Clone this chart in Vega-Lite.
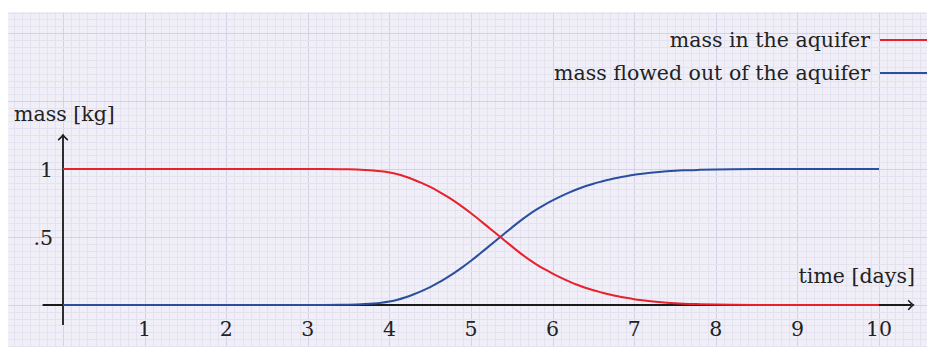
{
  "$schema": "https://vega.github.io/schema/vega-lite/v6.json",
  "width": 919,
  "height": 335,
  "autosize": {"type": "none"},
  "padding": {"left": 8, "top": 12, "right": 0, "bottom": 0},
  "background": "#ffffff",
  "config": {
    "view": {"fill": "#f0eff8", "stroke": null},
    "text": {"font": "DejaVu Serif", "fontSize": 20.5, "color": "#222222"}
  },
  "datasets": {
    "curves": [
      {"t": 0, "inside": 1, "outflow": 0},
      {"t": 1, "inside": 1, "outflow": 0},
      {"t": 2, "inside": 1, "outflow": 0},
      {"t": 3, "inside": 1, "outflow": 0},
      {"t": 3.2, "inside": 1, "outflow": 0},
      {"t": 3.4, "inside": 0.999, "outflow": 0.001},
      {"t": 3.5, "inside": 0.998, "outflow": 0.002},
      {"t": 3.6, "inside": 0.996, "outflow": 0.004},
      {"t": 3.7, "inside": 0.993, "outflow": 0.007},
      {"t": 3.8, "inside": 0.989, "outflow": 0.011},
      {"t": 3.9, "inside": 0.983, "outflow": 0.017},
      {"t": 4.0, "inside": 0.974, "outflow": 0.026},
      {"t": 4.1, "inside": 0.961, "outflow": 0.039},
      {"t": 4.2, "inside": 0.943, "outflow": 0.057},
      {"t": 4.3, "inside": 0.921, "outflow": 0.079},
      {"t": 4.4, "inside": 0.896, "outflow": 0.104},
      {"t": 4.5, "inside": 0.868, "outflow": 0.132},
      {"t": 4.6, "inside": 0.836, "outflow": 0.164},
      {"t": 4.7, "inside": 0.8, "outflow": 0.2},
      {"t": 4.8, "inside": 0.762, "outflow": 0.238},
      {"t": 4.9, "inside": 0.72, "outflow": 0.28},
      {"t": 5.0, "inside": 0.675, "outflow": 0.325},
      {"t": 5.1, "inside": 0.627, "outflow": 0.373},
      {"t": 5.2, "inside": 0.578, "outflow": 0.422},
      {"t": 5.3, "inside": 0.529, "outflow": 0.471},
      {"t": 5.4, "inside": 0.48, "outflow": 0.52},
      {"t": 5.5, "inside": 0.431, "outflow": 0.569},
      {"t": 5.6, "inside": 0.383, "outflow": 0.617},
      {"t": 5.7, "inside": 0.339, "outflow": 0.661},
      {"t": 5.8, "inside": 0.299, "outflow": 0.701},
      {"t": 5.9, "inside": 0.263, "outflow": 0.737},
      {"t": 6.0, "inside": 0.231, "outflow": 0.769},
      {"t": 6.1, "inside": 0.201, "outflow": 0.799},
      {"t": 6.2, "inside": 0.174, "outflow": 0.826},
      {"t": 6.3, "inside": 0.149, "outflow": 0.851},
      {"t": 6.4, "inside": 0.127, "outflow": 0.873},
      {"t": 6.5, "inside": 0.108, "outflow": 0.892},
      {"t": 6.6, "inside": 0.092, "outflow": 0.908},
      {"t": 6.7, "inside": 0.077, "outflow": 0.923},
      {"t": 6.8, "inside": 0.064, "outflow": 0.936},
      {"t": 6.9, "inside": 0.053, "outflow": 0.947},
      {"t": 7.0, "inside": 0.043, "outflow": 0.957},
      {"t": 7.1, "inside": 0.035, "outflow": 0.965},
      {"t": 7.2, "inside": 0.028, "outflow": 0.972},
      {"t": 7.3, "inside": 0.022, "outflow": 0.978},
      {"t": 7.4, "inside": 0.017, "outflow": 0.983},
      {"t": 7.5, "inside": 0.013, "outflow": 0.987},
      {"t": 7.6, "inside": 0.01, "outflow": 0.99},
      {"t": 7.8, "inside": 0.006, "outflow": 0.994},
      {"t": 8.0, "inside": 0.003, "outflow": 0.997},
      {"t": 8.2, "inside": 0.0015, "outflow": 0.9985},
      {"t": 8.5, "inside": 0.0005, "outflow": 0.9995},
      {"t": 9.0, "inside": 0, "outflow": 1},
      {"t": 10.0, "inside": 0, "outflow": 1}
    ],
    "xticks": [
      {"v": 1}, {"v": 2}, {"v": 3}, {"v": 4}, {"v": 5},
      {"v": 6}, {"v": 7}, {"v": 8}, {"v": 9}, {"v": 10}
    ],
    "yticks": [
      {"v": 0.5, "lbl": ".5"},
      {"v": 1, "lbl": "1"}
    ],
    "one": [{}]
  },
  "resolve": {"axis": {"x": "independent", "y": "independent"}},
  "layer": [
    {
      "description": "horizontal time axis",
      "data": {"name": "one"},
      "mark": {"type": "rule", "stroke": "#1a1a1a", "strokeWidth": 1.8},
      "encoding": {
        "x": {"datum": -0.25, "type": "quantitative", "axis": null, "scale": {"domain": [-0.674, 10.588], "nice": false, "zero": false}},
        "x2": {"datum": 10.4},
        "y": {"datum": 0, "type": "quantitative", "axis": null, "scale": {"domain": [-0.3088, 2.1544], "nice": false, "zero": false}}
      }
    },
    {
      "description": "vertical mass axis",
      "data": {"name": "one"},
      "mark": {"type": "rule", "stroke": "#1a1a1a", "strokeWidth": 1.8},
      "encoding": {
        "x": {"datum": 0, "type": "quantitative", "axis": null, "scale": {"domain": [-0.674, 10.588], "nice": false, "zero": false}},
        "y": {"datum": -0.147, "type": "quantitative", "axis": null, "scale": {"domain": [-0.3088, 2.1544], "nice": false, "zero": false}},
        "y2": {"datum": 1.24}
      }
    },
    {
      "description": "mass that has left the aquifer; its axes carry the fine grid",
      "data": {"name": "curves"},
      "mark": {"type": "line", "stroke": "#2b4e9e", "strokeWidth": 2, "interpolate": "monotone"},
      "encoding": {
        "x": {"field": "t", "type": "quantitative",
              "scale": {"domain": [-0.674, 10.588], "nice": false, "zero": false},
              "axis": {"grid": true, "gridColor": "#e4e2f0", "gridWidth": 1, "tickCount": 113, "labels": false, "ticks": false, "domain": false, "title": null}},
        "y": {"field": "outflow", "type": "quantitative",
              "scale": {"domain": [-0.3088, 2.1544], "nice": false, "zero": false},
              "axis": {"grid": true, "gridColor": "#e4e2f0", "gridWidth": 1, "tickCount": 49, "labels": false, "ticks": false, "domain": false, "title": null}}
      }
    },
    {
      "description": "mass still in the aquifer; its axes carry the coarse grid",
      "data": {"name": "curves"},
      "mark": {"type": "line", "stroke": "#e8212b", "strokeWidth": 2, "interpolate": "monotone"},
      "encoding": {
        "x": {"field": "t", "type": "quantitative",
              "scale": {"domain": [-0.674, 10.588], "nice": false, "zero": false},
              "axis": {"grid": true, "gridColor": "#d4d1e7", "gridWidth": 1, "values": [0, 1, 2, 3, 4, 5, 6, 7, 8, 9, 10], "labels": false, "ticks": false, "domain": false, "title": null}},
        "y": {"field": "inside", "type": "quantitative",
              "scale": {"domain": [-0.3088, 2.1544], "nice": false, "zero": false},
              "axis": {"grid": true, "gridColor": "#d4d1e7", "gridWidth": 1, "values": [0, 0.5, 1, 1.5, 2], "labels": false, "ticks": false, "domain": false, "title": null}}
      }
    },
    {
      "description": "arrow head of the time axis",
      "data": {"name": "one"},
      "mark": {"type": "point", "shape": "M-1.7,-1.6Q-0.5,-0.3 0,0Q-0.5,0.3 -1.7,1.6", "size": 36, "filled": false, "stroke": "#1a1a1a", "strokeWidth": 1.5, "opacity": 1},
      "encoding": {
        "x": {"datum": 10.42, "type": "quantitative", "axis": null, "scale": {"domain": [-0.674, 10.588], "nice": false, "zero": false}},
        "y": {"datum": 0, "type": "quantitative", "axis": null, "scale": {"domain": [-0.3088, 2.1544], "nice": false, "zero": false}}
      }
    },
    {
      "description": "arrow head of the mass axis",
      "data": {"name": "one"},
      "mark": {"type": "point", "shape": "M-1.7,-1.6Q-0.5,-0.3 0,0Q-0.5,0.3 -1.7,1.6", "size": 36, "angle": -90, "filled": false, "stroke": "#1a1a1a", "strokeWidth": 1.5, "opacity": 1},
      "encoding": {
        "x": {"datum": 0, "type": "quantitative", "axis": null, "scale": {"domain": [-0.674, 10.588], "nice": false, "zero": false}},
        "y": {"datum": 1.25, "type": "quantitative", "axis": null, "scale": {"domain": [-0.3088, 2.1544], "nice": false, "zero": false}}
      }
    },
    {
      "description": "day numbers under the time axis",
      "data": {"name": "xticks"},
      "mark": {"type": "text", "align": "center", "baseline": "alphabetic", "dy": 30.5},
      "encoding": {
        "x": {"field": "v", "type": "quantitative", "axis": null, "scale": {"domain": [-0.674, 10.588], "nice": false, "zero": false}},
        "y": {"datum": 0, "type": "quantitative", "axis": null, "scale": {"domain": [-0.3088, 2.1544], "nice": false, "zero": false}},
        "text": {"field": "v", "type": "quantitative"}
      }
    },
    {
      "description": "mass values left of the mass axis",
      "data": {"name": "yticks"},
      "mark": {"type": "text", "align": "right", "baseline": "alphabetic", "dx": -10, "dy": 7.7},
      "encoding": {
        "x": {"datum": 0, "type": "quantitative", "axis": null, "scale": {"domain": [-0.674, 10.588], "nice": false, "zero": false}},
        "y": {"field": "v", "type": "quantitative", "axis": null, "scale": {"domain": [-0.3088, 2.1544], "nice": false, "zero": false}},
        "text": {"field": "lbl", "type": "nominal"}
      }
    },
    {
      "description": "title of the mass axis",
      "data": {"name": "one"},
      "mark": {"type": "text", "align": "left", "baseline": "alphabetic"},
      "encoding": {
        "x": {"datum": -0.6, "type": "quantitative", "axis": null, "scale": {"domain": [-0.674, 10.588], "nice": false, "zero": false}},
        "y": {"datum": 1.355, "type": "quantitative", "axis": null, "scale": {"domain": [-0.3088, 2.1544], "nice": false, "zero": false}},
        "text": {"value": "mass [kg]"}
      }
    },
    {
      "description": "title of the time axis",
      "data": {"name": "one"},
      "mark": {"type": "text", "align": "right", "baseline": "alphabetic"},
      "encoding": {
        "x": {"datum": 10.44, "type": "quantitative", "axis": null, "scale": {"domain": [-0.674, 10.588], "nice": false, "zero": false}},
        "y": {"datum": 0.16, "type": "quantitative", "axis": null, "scale": {"domain": [-0.3088, 2.1544], "nice": false, "zero": false}},
        "text": {"value": "time [days]"}
      }
    },
    {
      "description": "legend sample, mass in the aquifer",
      "data": {"name": "one"},
      "mark": {"type": "rule", "stroke": "#e8212b", "strokeWidth": 2},
      "encoding": {
        "x": {"datum": 10.012, "type": "quantitative", "axis": null, "scale": {"domain": [-0.674, 10.588], "nice": false, "zero": false}},
        "x2": {"datum": 10.588},
        "y": {"datum": 1.949, "type": "quantitative", "axis": null, "scale": {"domain": [-0.3088, 2.1544], "nice": false, "zero": false}}
      }
    },
    {
      "description": "legend sample, mass flowed out",
      "data": {"name": "one"},
      "mark": {"type": "rule", "stroke": "#2b4e9e", "strokeWidth": 2},
      "encoding": {
        "x": {"datum": 10.012, "type": "quantitative", "axis": null, "scale": {"domain": [-0.674, 10.588], "nice": false, "zero": false}},
        "x2": {"datum": 10.588},
        "y": {"datum": 1.706, "type": "quantitative", "axis": null, "scale": {"domain": [-0.3088, 2.1544], "nice": false, "zero": false}}
      }
    },
    {
      "description": "legend label, mass in the aquifer",
      "data": {"name": "one"},
      "mark": {"type": "text", "align": "right", "baseline": "alphabetic", "dy": 6.7},
      "encoding": {
        "x": {"datum": 9.89, "type": "quantitative", "axis": null, "scale": {"domain": [-0.674, 10.588], "nice": false, "zero": false}},
        "y": {"datum": 1.949, "type": "quantitative", "axis": null, "scale": {"domain": [-0.3088, 2.1544], "nice": false, "zero": false}},
        "text": {"value": "mass in the aquifer"}
      }
    },
    {
      "description": "legend label, mass flowed out",
      "data": {"name": "one"},
      "mark": {"type": "text", "align": "right", "baseline": "alphabetic", "dy": 6.7},
      "encoding": {
        "x": {"datum": 9.89, "type": "quantitative", "axis": null, "scale": {"domain": [-0.674, 10.588], "nice": false, "zero": false}},
        "y": {"datum": 1.706, "type": "quantitative", "axis": null, "scale": {"domain": [-0.3088, 2.1544], "nice": false, "zero": false}},
        "text": {"value": "mass flowed out of the aquifer"}
      }
    }
  ]
}
